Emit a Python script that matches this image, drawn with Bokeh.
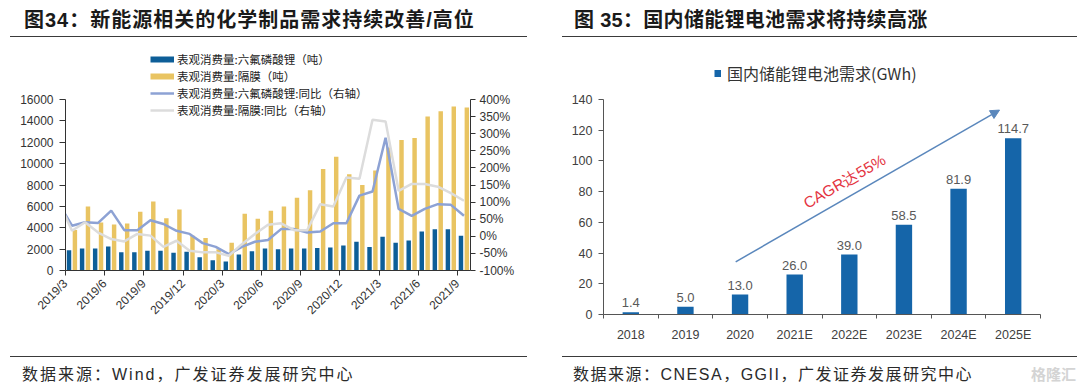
import math
import numpy as np
from bokeh.plotting import figure
from bokeh.models import (Range1d, LinearAxis, FixedTicker, PrintfTickFormatter,
                          Legend, LegendItem, Div, Arrow, NormalHead, Label)
from bokeh.layouts import row, column
from bokeh.embed import file_html
from bokeh.resources import INLINE
from bokeh.core.properties import value

# ---------------- data: left chart ----------------
months = ["2019/3", "2019/4", "2019/5", "2019/6", "2019/7", "2019/8", "2019/9", "2019/10",
          "2019/11", "2019/12", "2020/1", "2020/2", "2020/3", "2020/4", "2020/5", "2020/6",
          "2020/7", "2020/8", "2020/9", "2020/10", "2020/11", "2020/12", "2021/1", "2021/2",
          "2021/3", "2021/4", "2021/5", "2021/6", "2021/7", "2021/8", "2021/9"]
lipf6_t = [1900, 2050, 2050, 2250, 1700, 1700, 1850, 1850, 1650, 1750, 1250, 950, 850, 1500,
           1800, 2050, 2000, 2050, 2050, 2100, 2150, 2350, 2700, 2200, 3150, 2600, 2800, 3650,
           3850, 3850, 3250]
separator_t = [3800, 6000, 4500, 4300, 4400, 5500, 6450, 4900, 5700, 3250, 3050, 2000, 2600,
               5300, 4850, 5600, 6000, 6800, 7500, 9500, 10650, 9000, 8000, 9350, 11500, 12200,
               12400, 14400, 14900, 15350, 15250]
lipf6_yoy = [31, 41, 39, 75, 18, 18, 47, 36, 16, 7, -20, -31, -52, -31, -16, -11, 21, 21, 11,
             14, 38, 38, 119, 131, 288, 80, 60, 80, 94, 92, 60]
separator_yoy = [16, 41, 11, -8, -15, 7, 2, -31, -13, -42, -47, -47, -57, -23, 7, 34, 38, 18,
                 18, 94, 87, 172, 168, 341, 336, 133, 153, 153, 145, 126, 104]
# 2019/2 values (just outside the visible axis, only the entering segment shows)
prev_month_yoy = {"lipf6": 95, "separator": 100}

left_labels = ["表观消费量:六氟磷酸锂（吨）", "表观消费量:隔膜（吨）",
               "表观消费量:六氟磷酸锂:同比（右轴）", "表观消费量:隔膜:同比（右轴）"]
left_axis_max = 16000
right_axis_min, right_axis_max = -100, 400
left_ticks_left = list(range(0, left_axis_max + 1, 2000))
left_ticks_right = list(range(right_axis_min, right_axis_max + 1, 50))

# ---------------- data: right chart ----------------
years = ["2018", "2019", "2020", "2021E", "2022E", "2023E", "2024E", "2025E"]
demand_gwh = [1.4, 5.0, 13.0, 26.0, 39.0, 58.5, 81.9, 114.7]
right_label = "国内储能锂电池需求(GWh)"
demand_axis_max = 140
right_ticks = list(range(0, demand_axis_max + 1, 20))
cagr_text = "CAGR达55%"
cagr_arrow = {"x0": 2.42, "y0": 34.3, "x1": 7.25, "y1": 133.1}
cagr_label_pos = {"x": 4.41, "y": 86.8}

title_left = "图34：新能源相关的化学制品需求持续改善/高位"
title_right = "图 35：国内储能锂电池需求将持续高涨"
source_left = "数据来源：Wind，广发证券发展研究中心"
source_right = "数据来源：CNESA，GGII，广发证券发展研究中心"

# ---------------- styles ----------------
DARK = "#0D5E98"
GOLD = "#E9C462"
LINE1 = "#8DA2D4"
LINE2 = "#DCDCDC"
BLUE = "#1565A9"
ARROW = "#5A87BC"
RED = "#E4343F"
AX_FONT = "Liberation Sans"
CJK = "Noto Sans CJK SC"

PANEL_W = 532
FIG_H = 303


def header_div(text, left, rule_left, rule_width, spacing):
    html = (
        f'<div style="position:relative;width:{PANEL_W}px;height:34px;">'
        f'<div style="position:absolute;left:{left}px;top:4px;line-height:22px;white-space:nowrap;'
        f"font-family:'Liberation Sans','{CJK}',sans-serif;font-weight:bold;font-size:20px;"
        f'letter-spacing:{spacing}px;color:#1a1a1a;">{text}</div>'
        f'<div style="position:absolute;left:{rule_left}px;top:31px;width:{rule_width}px;'
        f'height:0;border-top:1.5px solid #3a3a3a;"></div></div>'
    )
    return Div(text=html, width=PANEL_W, height=34)


def footer_div(text, left, rule_left, rule_width, spacing, watermark=False):
    wm = ""
    if watermark:
        wm = ('<div style="position:absolute;left:484px;top:12px;line-height:20px;white-space:nowrap;'
              f"font-family:'{CJK}';font-size:15px;font-weight:bold;color:#d4d4d4;\">格隆汇</div>")
    html = (
        f'<div style="position:relative;width:{PANEL_W}px;height:38px;">'
        f'<div style="position:absolute;left:{rule_left}px;top:4px;width:{rule_width}px;'
        f'height:0;border-top:1.5px solid #3a3a3a;"></div>'
        f'<div style="position:absolute;left:{left}px;top:13px;line-height:20px;white-space:nowrap;'
        f"font-family:'Liberation Sans','{CJK}',sans-serif;font-size:16px;letter-spacing:{spacing}px;"
        f'color:#2a2a2a;">{text}</div>{wm}</div>'
    )
    return Div(text=html, width=PANEL_W, height=38)


# ---------------- left chart ----------------
# frame extends above the axis top so the legend can sit there; axes are bounded.
L_TOP, L_BOT = 2, 77
L_FRAME_H = FIG_H - L_TOP - L_BOT
L_AXIS_PX = 171                            # px between 0 and 16000
l_ymax = left_axis_max * L_FRAME_H / L_AXIS_PX
r_ymax = right_axis_min + (right_axis_max - right_axis_min) * L_FRAME_H / L_AXIS_PX

n = len(months)
idx = np.arange(n)
p1 = figure(width=PANEL_W, height=FIG_H, x_range=Range1d(0, n), y_range=Range1d(0, l_ymax),
            output_backend="svg", toolbar_location=None,
            min_border_left=65, min_border_right=62, min_border_top=L_TOP, min_border_bottom=L_BOT)
p1.extra_y_ranges = {"yoy": Range1d(right_axis_min, r_ymax)}
p1.outline_line_color = None
p1.xgrid.visible = False
p1.ygrid.visible = False
p1.background_fill_color = None
p1.border_fill_color = None

p1.vbar(x=idx + 0.27, top=lipf6_t, width=0.34, fill_color=DARK, line_color=None)
p1.vbar(x=idx + 0.72, top=separator_t, width=0.34, fill_color=GOLD, line_color=None)
line_x = np.concatenate([[-0.5], idx + 0.5])
r_l1 = p1.line(line_x, [prev_month_yoy["lipf6"]] + lipf6_yoy, y_range_name="yoy",
               line_color=LINE1, line_width=2.5)
r_l2 = p1.line(line_x, [prev_month_yoy["separator"]] + separator_yoy, y_range_name="yoy",
               line_color=LINE2, line_width=2.5)

# legend swatch proxies for the bars (single NaN point: draws nothing on the plot)
px1 = p1.line(x=[np.nan], y=[np.nan], line_color=DARK, line_width=6)
px2 = p1.line(x=[np.nan], y=[np.nan], line_color=GOLD, line_width=6)
leg1 = Legend(items=[LegendItem(label=left_labels[i], renderers=[r])
                     for i, r in enumerate([px1, px2, r_l1, r_l2])],
              location=(85, 152), glyph_width=24, glyph_height=16, label_height=16,
              label_standoff=3, spacing=1, padding=0, margin=0,
              background_fill_alpha=0, border_line_color=None,
              label_text_font=CJK, label_text_font_size="11.5px", label_text_color="#222222")
p1.add_layout(leg1)

xa = p1.xaxis[0]
xa.ticker = FixedTicker(ticks=list(range(0, n, 3)))
xa.major_label_overrides = {i: months[i] for i in range(0, n, 3)}
xa.major_label_orientation = math.pi / 4
xa.major_label_text_font = AX_FONT
xa.major_label_text_font_size = "12px"
xa.major_label_text_color = "#333333"
xa.major_tick_out = 5
xa.major_tick_in = 0
xa.minor_tick_line_color = None
xa.axis_line_color = "#333333"
xa.major_tick_line_color = "#333333"
xa.major_label_standoff = 6

ya = p1.yaxis[0]
ya.bounds = (0, left_axis_max)
ya.ticker = FixedTicker(ticks=left_ticks_left)
ya.major_label_text_font = AX_FONT
ya.major_label_text_font_size = "12px"
ya.major_label_text_color = "#333333"
ya.major_tick_out = 6
ya.major_tick_in = 0
ya.minor_tick_line_color = None
ya.axis_line_color = "#333333"
ya.major_tick_line_color = "#333333"
ya.major_label_standoff = 6

ra = LinearAxis(y_range_name="yoy", ticker=FixedTicker(ticks=left_ticks_right),
                formatter=PrintfTickFormatter(format="%d%%"), bounds=(right_axis_min, right_axis_max))
ra.major_label_text_font = AX_FONT
ra.major_label_text_font_size = "12px"
ra.major_label_text_color = "#333333"
ra.major_tick_out = 5
ra.major_tick_in = 0
ra.minor_tick_line_color = None
ra.axis_line_color = "#333333"
ra.major_tick_line_color = "#333333"
ra.major_label_standoff = 4
p1.add_layout(ra, "right")

# ---------------- right chart ----------------
R_TOP, R_BOT = 14, 33
R_FRAME_H = FIG_H - R_TOP - R_BOT
R_AXIS_PX = 215                            # px between 0 and 140
d_ymax = demand_axis_max * R_FRAME_H / R_AXIS_PX

m = len(years)
yidx = np.arange(m)
p2 = figure(width=PANEL_W, height=FIG_H, x_range=Range1d(0, m), y_range=Range1d(0, d_ymax),
            output_backend="svg", toolbar_location=None,
            min_border_left=61, min_border_right=34, min_border_top=R_TOP, min_border_bottom=R_BOT)
p2.outline_line_color = None
p2.xgrid.visible = False
p2.ygrid.visible = False
p2.background_fill_color = None
p2.border_fill_color = None

p2.vbar(x=yidx + 0.5, top=demand_gwh, width=0.3, fill_color=BLUE, line_color=None)
p2.text(x=yidx + 0.5, y=demand_gwh, text=[f"{v:.1f}" for v in demand_gwh],
        text_align="center", text_baseline="bottom", y_offset=-5,
        text_font=value(AX_FONT), text_font_size="13px", text_color="#595959")

p2.add_layout(Arrow(end=NormalHead(size=9, fill_color=ARROW, line_color=ARROW),
                    x_start=cagr_arrow["x0"], y_start=cagr_arrow["y0"],
                    x_end=cagr_arrow["x1"], y_end=cagr_arrow["y1"],
                    line_color=ARROW, line_width=1.5))
p2.add_layout(Label(x=cagr_label_pos["x"], y=cagr_label_pos["y"], text=cagr_text,
                    angle=0.524, text_align="center", text_baseline="middle",
                    text_font=AX_FONT, text_font_size="15.5px", text_color=RED))

pxr = p2.line(x=[np.nan], y=[np.nan], line_color=BLUE, line_width=7)
leg2 = Legend(items=[LegendItem(label=right_label, renderers=[pxr])],
              location=(111, 229), glyph_width=7, glyph_height=16, label_height=16,
              label_standoff=6, spacing=0, padding=0, margin=0,
              background_fill_alpha=0, border_line_color=None,
              label_text_font=CJK, label_text_font_size="16px", label_text_color="#333333")
p2.add_layout(leg2)

xb = p2.xaxis[0]
xb.ticker = FixedTicker(ticks=[i + 0.5 for i in range(m)], minor_ticks=list(range(m + 1)))
xb.major_label_overrides = {i + 0.5: years[i] for i in range(m)}
xb.major_label_text_font = AX_FONT
xb.major_label_text_font_size = "12.5px"
xb.major_label_text_color = "#404040"
xb.major_tick_line_color = None
xb.major_tick_out = 0
xb.major_tick_in = 0
xb.minor_tick_out = 4
xb.minor_tick_in = 0
xb.minor_tick_line_color = "#555555"
xb.axis_line_color = "#555555"
xb.major_label_standoff = 9

yb = p2.yaxis[0]
yb.bounds = (0, demand_axis_max)
yb.ticker = FixedTicker(ticks=right_ticks)
yb.major_label_text_font = AX_FONT
yb.major_label_text_font_size = "12.5px"
yb.major_label_text_color = "#404040"
yb.major_tick_out = 5
yb.major_tick_in = 0
yb.minor_tick_line_color = None
yb.axis_line_color = "#555555"
yb.major_tick_line_color = "#555555"
yb.major_label_standoff = 6

# ---------------- layout ----------------
left_panel = column(header_div(title_left, 19, 5, 517, 1), p1,
                    footer_div(source_left, 17, 5, 517, 2), spacing=0)
right_panel = column(header_div(title_right, 27, 15, 515, 0.3), p2,
                     footer_div(source_right, 26, 15, 515, 1.5, watermark=True), spacing=0)
layout = row(left_panel, right_panel, spacing=0)

open("out.html", "w").write(file_html(layout, INLINE))
